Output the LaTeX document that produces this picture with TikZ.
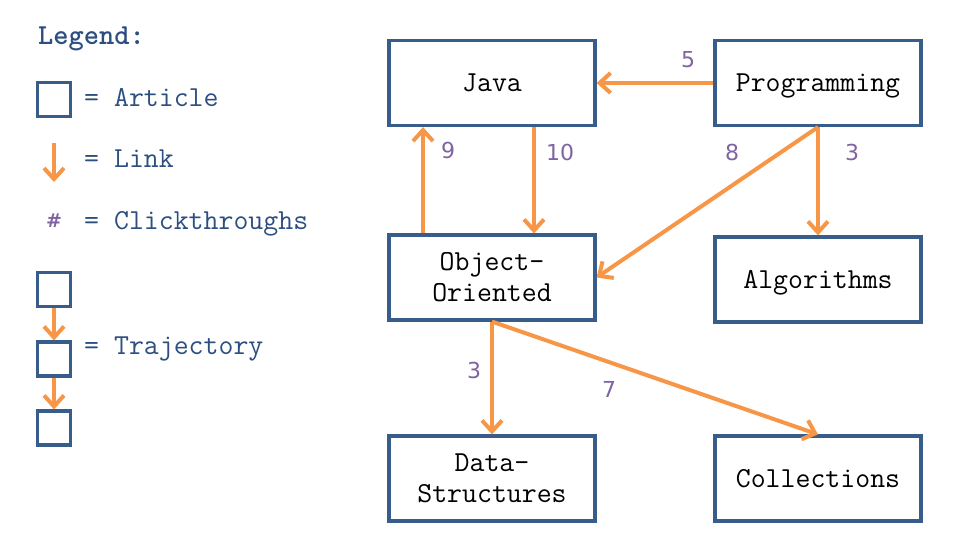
\documentclass[tikz,border=0pt]{standalone}
\usepackage{fontspec}
\newfontfamily\numfont{DejaVu Sans}
\usetikzlibrary{arrows.meta}
\definecolor{boxblue}{HTML}{385D8A}
\definecolor{legtext}{HTML}{2C4F80}
\definecolor{linkor}{HTML}{F79646}
\definecolor{numpurp}{HTML}{8064A2}
\tikzset{
  article/.style={draw=boxblue, line width=3.2pt, minimum width=206pt, minimum height=85pt, inner sep=0pt, align=center, font=\ttfamily\fontsize{29pt}{31pt}\selectfont},
  oneline/.style={article, text height=21.75pt, text depth=4pt},
  minibox/.style={draw=boxblue, line width=3.2pt, minimum width=33pt, minimum height=34pt, inner sep=0pt},
  link/.style={draw=linkor, line width=4pt, -{Straight Barb[length=11pt,width=20pt]}},
  count/.style={text=numpurp, font=\numfont\fontsize{22pt}{26pt}\selectfont, inner sep=0pt},
  legtxt/.style={text=legtext, anchor=base west, inner sep=0pt, font=\ttfamily\fontsize{29pt}{31pt}\selectfont}
}
\begin{document}
\begin{tikzpicture}[x=1pt,y=-1pt]
\useasboundingbox (0,0) rectangle (977,554);
% legend
\node[legtxt, font=\ttfamily\bfseries\fontsize{29pt}{31pt}\selectfont] (leg) at (38,44) {Legend:};
\node[minibox] (la) at (54,99.5) {};
\node[legtxt] (lat) at (84,106) {= Article};
\coordinate (lk1) at (54,143);
\coordinate (lk2) at (54,182);
\draw[link] (lk1) -- (lk2);
\node[legtxt] (lkt) at (84,167) {= Link};
\node[count, font=\numfont\bfseries\fontsize{19pt}{20pt}\selectfont] (lh) at (54,221) {\#};
\node[legtxt] (lht) at (84,229) {= Clickthroughs};
\node[minibox] (t1) at (54,289.5) {};
\node[minibox] (t2) at (54,359) {};
\node[minibox] (t3) at (54,428) {};
\draw[link] (t1) -- (t2);
\draw[link] (t2) -- (t3);
\node[legtxt] (tt) at (84,354) {= Trajectory};
% articles
\node[oneline] (java) at (492,83) {Java};
\node[oneline] (prog) at (818,83) {Programming};
\node[article] (oo) at (492,277.5) {Object-\\Oriented};
\node[oneline] (alg) at (818,279.5) {Algorithms};
\node[article] (ds) at (492,478.5) {Data-\\Structures};
\node[oneline] (coll) at (818,478.5) {Collections};
% links
\draw[link] (prog.west) -- (java.east);
\draw[link] ([xshift=-69pt]oo.north) -- ([xshift=-69pt]java.south);
\draw[link] ([xshift=42pt]java.south) -- ([xshift=42pt]oo.north);
\draw[link] (prog.south) -- (oo.east);
\draw[link] (prog.south) -- (alg.north);
\draw[link] (oo.south) -- (ds.north);
\draw[link] (oo.south) -- (coll.north);
% counts
\node[count] (c5) at (688,60) {5};
\node[count] (c9) at (448,150) {9};
\node[count] (c10) at (560,152) {10};
\node[count] (c8) at (732,152) {8};
\node[count] (c3a) at (852,152) {3};
\node[count] (c3b) at (474,370) {3};
\node[count] (c7) at (609,389) {7};
\end{tikzpicture}
\end{document}
